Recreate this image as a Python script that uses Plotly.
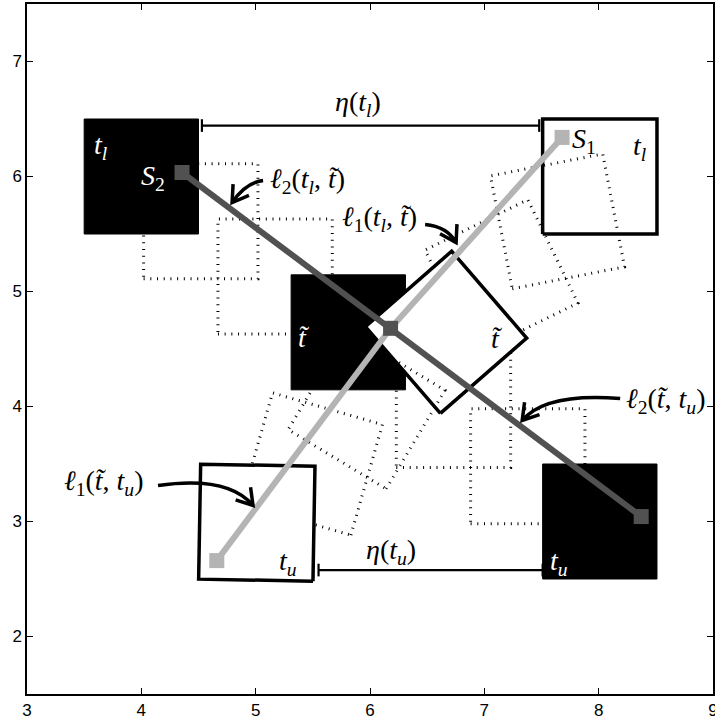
import numpy as np
import plotly.graph_objects as go

# ---------------- data ----------------
x_range = [3, 9]
y_range = [1.5, 7.5]
x_ticks = [3, 4, 5, 6, 7, 8, 9]
y_ticks = [2, 3, 4, 5, 6, 7]

side = 1.0
# black object (translating only): centres at successive instants
blk_cx = [4.00, 4.52, 5.17, 5.81, 6.73, 7.38, 8.01]
blk_cy = [6.00, 5.61, 5.13, 4.645, 3.97, 3.48, 3.00]
blk_solid = [True, False, False, True, False, False, True]

# white object (translating + rotating): centres and rotation (deg)
wht_cx = [8.01, 7.64, 7.15, 6.665, 5.97, 5.49, 5.01]
wht_cy = [6.00, 5.61, 5.13, 4.645, 3.97, 3.50, 2.99]
wht_rot = [0, 11, 26, 41, 59, 74, 89]
wht_solid = [True, False, False, True, False, False, True]

# trajectories of the reference points S1 and S2
s1_x = [7.68, 6.18, 4.66]
s1_y = [6.34, 4.68, 2.66]
s2_x = [4.356, 6.18, 8.372]
s2_y = [6.035, 4.68, 3.043]

# eta brackets
eta_l_x = [4.53, 7.48]
eta_l_y = 6.443
eta_u_x = [5.55, 7.51]
eta_u_y = 2.578

# text labels
lab_x = [3.647, 4.10, 7.875, 8.363, 5.454, 6.08, 5.423, 7.112, 8.585, 3.665, 5.283, 7.650, 6.185, 5.896]
lab_y = [6.262, 5.991, 6.313, 6.253, 5.965, 5.635, 4.60, 4.591, 4.052, 3.339, 2.640, 2.640, 2.739, 6.635]
lab_txt = [
    "<i>t<sub>l</sub></i>",
    "<i>S</i><sub>2</sub>",
    "<i>S</i><sub>1</sub>",
    "<i>t<sub>l</sub></i>",
    "<i>ℓ</i><sub>2</sub>(<i>t<sub>l</sub></i>, <i>t̃</i>)",
    "<i>ℓ</i><sub>1</sub>(<i>t<sub>l</sub></i>, <i>t̃</i>)",
    "<i>t̃</i>",
    "<i>t̃</i>",
    "<i>ℓ</i><sub>2</sub>(<i>t̃</i>, <i>t<sub>u</sub></i>)",
    "<i>ℓ</i><sub>1</sub>(<i>t̃</i>, <i>t<sub>u</sub></i>)",
    "<i>t<sub>u</sub></i>",
    "<i>t<sub>u</sub></i>",
    "<i>η</i>(<i>t<sub>u</sub></i>)",
    "<i>η</i>(<i>t<sub>l</sub></i>)",
]
lab_col = ["white", "white", "black", "black", "black", "black", "white", "black",
           "black", "black", "black", "white", "black", "black"]

# curved arrows: start, control, tip
arr_sx = [5.065, 6.482, 8.188, 4.146]
arr_sy = [5.965, 5.583, 4.070, 3.313]
arr_cx = [4.916, 6.675, 7.532, 4.759]
arr_cy = [5.948, 5.565, 4.122, 3.400]
arr_tx = [4.794, 6.753, 7.331, 4.977]
arr_ty = [5.774, 5.426, 3.878, 3.139]

# ---------------- helpers ----------------
def square(cx, cy, rot_deg):
    a = np.deg2rad(rot_deg)
    pts = [(-0.5, -0.5), (0.5, -0.5), (0.5, 0.5), (-0.5, 0.5), (-0.5, -0.5)]
    xs = [cx + side * (px * np.cos(a) - py * np.sin(a)) for px, py in pts]
    ys = [cy + side * (px * np.sin(a) + py * np.cos(a)) for px, py in pts]
    return xs, ys

DOT = "1px,5.7px"
LIGHT = "#b4b4b4"
DARK = "#515151"

fig = go.Figure()

# black object
for cx, cy, solid in zip(blk_cx, blk_cy, blk_solid):
    xs, ys = square(cx, cy, 0)
    if solid:
        fig.add_trace(go.Scatter(x=xs, y=ys, mode="lines", fill="toself",
                                 fillcolor="black", line=dict(color="black", width=1),
                                 hoverinfo="skip", showlegend=False))
    else:
        fig.add_trace(go.Scatter(x=xs, y=ys, mode="lines",
                                 line=dict(color="black", width=3, dash=DOT),
                                 hoverinfo="skip", showlegend=False))

# white object
for cx, cy, r, solid in zip(wht_cx, wht_cy, wht_rot, wht_solid):
    xs, ys = square(cx, cy, r)
    if solid:
        fig.add_trace(go.Scatter(x=xs, y=ys, mode="lines", fill="toself",
                                 fillcolor="white", line=dict(color="black", width=3.5),
                                 hoverinfo="skip", showlegend=False))
    else:
        fig.add_trace(go.Scatter(x=xs, y=ys, mode="lines",
                                 line=dict(color="black", width=3, dash=DOT),
                                 hoverinfo="skip", showlegend=False))

# trajectories
fig.add_trace(go.Scatter(x=s1_x, y=s1_y, mode="lines",
                         line=dict(color=LIGHT, width=6), hoverinfo="skip", showlegend=False))
fig.add_trace(go.Scatter(x=s2_x, y=s2_y, mode="lines",
                         line=dict(color=DARK, width=6), hoverinfo="skip", showlegend=False))
fig.add_trace(go.Scatter(x=[s1_x[0], s1_x[-1]], y=[s1_y[0], s1_y[-1]], mode="markers",
                         marker=dict(symbol="square", size=15, color=LIGHT),
                         hoverinfo="skip", showlegend=False))
fig.add_trace(go.Scatter(x=[s2_x[0], s2_x[1], s2_x[-1]], y=[s2_y[0], s2_y[1], s2_y[-1]],
                         mode="markers", marker=dict(symbol="square", size=15, color=DARK),
                         hoverinfo="skip", showlegend=False))

# eta brackets
h = 0.055
for xx, yy in [(eta_l_x, eta_l_y), (eta_u_x, eta_u_y)]:
    fig.add_trace(go.Scatter(
        x=[xx[0], xx[1], None, xx[0], xx[0], None, xx[1], xx[1]],
        y=[yy, yy, None, yy - h, yy + h, None, yy - h, yy + h],
        mode="lines", line=dict(color="black", width=2.2),
        hoverinfo="skip", showlegend=False))

# curved arrows
shapes = []
for sx, sy, cx, cy, tx, ty in zip(arr_sx, arr_sy, arr_cx, arr_cy, arr_tx, arr_ty):
    d = np.array([tx - cx, ty - cy])
    d = d / np.linalg.norm(d)
    L = 0.16
    wings = []
    for ang in (32, -32):
        a = np.deg2rad(ang)
        rd = np.array([d[0] * np.cos(a) - d[1] * np.sin(a), d[0] * np.sin(a) + d[1] * np.cos(a)])
        wings.append((tx - L * rd[0], ty - L * rd[1]))
    path = (f"M {sx},{sy} Q {cx},{cy} {tx},{ty} "
            f"M {wings[0][0]},{wings[0][1]} L {tx},{ty} L {wings[1][0]},{wings[1][1]}")
    shapes.append(dict(type="path", path=path, xref="x", yref="y",
                       line=dict(color="black", width=3.5), layer="above"))

annotations = []
for x, y, t, c in zip(lab_x, lab_y, lab_txt, lab_col):
    annotations.append(dict(x=x, y=y, xref="x", yref="y", text=t, showarrow=False,
                            font=dict(family="Liberation Serif, DejaVu Serif, serif",
                                      size=28, color=c),
                            xanchor="center", yanchor="middle"))

fig.update_layout(
    width=715, height=725,
    margin=dict(l=27, r=2, t=4, b=31, autoexpand=False),
    paper_bgcolor="white", plot_bgcolor="white",
    shapes=shapes, annotations=annotations,
    showlegend=False,
)
axis_common = dict(showgrid=False, zeroline=False, showline=True, linecolor="black",
                   linewidth=1.5, mirror="ticks", ticks="inside", ticklen=6,
                   tickwidth=1, tickcolor="black", automargin=False,
                   ticklabeloverflow="allow",
                   tickfont=dict(family="Liberation Sans, Arial, sans-serif", size=17, color="black"))
fig.update_xaxes(range=x_range, tickvals=x_ticks, ticktext=[str(v) for v in x_ticks], **axis_common)
fig.update_yaxes(range=y_range, tickvals=y_ticks, ticktext=[str(v) for v in y_ticks], **axis_common)

fig.write_html("out.html", config={"displayModeBar": False},
               post_script="document.body.style.margin='0';document.body.style.padding='0';")
